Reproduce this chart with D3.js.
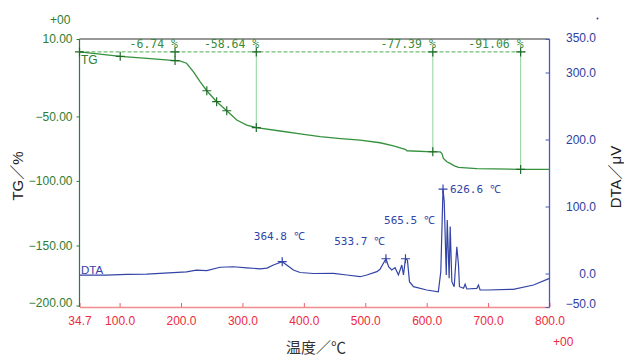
<!DOCTYPE html>
<html>
<head>
<meta charset="utf-8">
<script src="https://cdn.jsdelivr.net/npm/d3@7"></script>
<style>
  body { margin: 0; background: #fff; }
  svg { display: block; }
</style>
</head>
<body>
<div id="vis-holder"></div>
<script>
// TG curve (temperature in C, mass change in %)
const tgTemp  = [34.7, 101, 150, 190.3, 198, 209, 220, 231, 242, 258, 274.5, 290.8, 307, 322.6, 358.5, 394, 426.5, 460, 491.6, 524.2, 546, 565, 568, 610, 622, 624.7, 627.3, 632.8, 638.2, 645, 651.7, 681.7, 753, 800];
const tgValue = [0, -3.4, -5.2, -6.74, -6.9, -8.8, -15.3, -23.1, -30.1, -38.6, -45.6, -52.8, -56.7, -58.64, -61.1, -63.6, -65.7, -67.2, -68.3, -70.4, -72.9, -75.5, -76.6, -77.39, -77.5, -78.6, -82.5, -85.1, -86.4, -88.3, -89.5, -90.4, -91.06, -91.1];

// DTA curve (temperature in C, signal in uV)
const dtaTemp  = [34.7, 79, 111.6, 144, 165.8, 209, 225, 242, 263.6, 285.2, 307, 328.8, 340, 350.4, 364.8, 383, 394, 415.6, 448, 470, 491.6, 502.6, 518.9, 524, 533.7, 538, 543, 548.6, 554, 559.5, 562.2, 565.5, 568.7, 572, 578.5, 600, 619, 623, 626.6, 628.6, 631.9, 633.5, 636.6, 638.3, 641, 644.8, 649.1, 651.8, 653.4, 660, 662.6, 665.4, 681.7, 684.3, 687, 698, 741, 774, 800];
const dtaValue = [-2.5, -2.5, -1.2, -1.0, 0.3, 2.5, 5.0, 4.2, 9.3, 10.1, 8.5, 7.0, 8.0, 12.7, 17.6, 5.2, 1.5, 0.0, 0.3, -2.2, -4.8, -2.2, 2.7, 6.3, 22.0, 10.1, 5.2, 8.7, -2.2, 12.7, -2.2, 22.0, 20.0, -12.2, -19.7, -24.6, -27.2, 2.7, 126, 107, -2.2, 80, -7.2, 70, -12.2, -19.7, 40, 12.7, -19.7, -22.1, -16.1, -23.1, -22.1, -17.2, -24.6, -24.6, -23.6, -17.2, -7.2];

// TG steps
const stepTemp = [190.3, 322.6, 610.0, 753.0];
const stepLoss = [-6.74, -58.64, -77.39, -91.06];
const stepLabels = ["-6.74 %", "-58.64 %", "-77.39 %", "-91.06 %"];

// other TG marks
const tgMarkTemp  = [34.7, 101, 242, 258, 274.5];
const tgMarkValue = [0, -3.4, -30.1, -38.6, -45.6];

// DTA peaks
const peakTemp   = [364.8, 533.7, 565.5, 626.6];
const peakValue  = [17.6, 22.0, 22.0, 126];
const peakLabels = ["364.8 ℃", "533.7 ℃", "565.5 ℃", "626.6 ℃"];

// axis ticks
const xTicks   = [34.7, 100, 200, 300, 400, 500, 600, 700, 800];
const tgTicks  = [10, -50, -100, -150, -200];
const dtaTicks = [350, 300, 200, 100, 0, -50];

const width = 624;
const height = 356;
const plot = { left: 79.5, right: 549.5, top: 39, bottom: 307 };

const green = "#2e7d32";
const blue = "#3344a6";
const red = "#ee2a40";

const svg = d3.select("#vis-holder")
    .append("svg")
    .attr("width", width)
    .attr("height", height);

// scales
const x = d3.scaleLinear().domain([34.7, 800]).range([plot.left, plot.right]);
const yTG = d3.scaleLinear().domain([-200, 10]).range([310, plot.top]);
const yDTA = d3.scaleLinear().domain([-50, 350]).range([plot.bottom, plot.top]);

const labelFont = "'Liberation Sans', Arial, sans-serif";
const monoFont = "'DejaVu Sans Mono', 'Liberation Mono', monospace";

// top border
svg.append("line")
    .attr("x1", plot.left).attr("x2", plot.right)
    .attr("y1", plot.top).attr("y2", plot.top)
    .attr("stroke", "#333").attr("stroke-width", 1);

// bottom axis
const xAxis = svg.append("g")
    .attr("transform", `translate(0,${plot.bottom})`)
    .call(d3.axisBottom(x)
        .tickValues(xTicks)
        .tickFormat(d3.format(".1f"))
        .tickSizeInner(-4)
        .tickSizeOuter(0)
        .tickPadding(9));
xAxis.select(".domain").attr("stroke", "#f28b8b").attr("stroke-width", 1.5);
xAxis.selectAll(".tick line").attr("stroke", "#ef6070");
xAxis.selectAll(".tick text")
    .attr("fill", red)
    .attr("font-family", labelFont)
    .attr("font-size", "12px");

// left axis (TG)
const tgAxis = svg.append("g")
    .attr("transform", `translate(${plot.left},0)`)
    .call(d3.axisLeft(yTG)
        .tickValues(tgTicks)
        .tickFormat(d3.format(".2f"))
        .tickSize(3)
        .tickPadding(4));
tgAxis.select(".domain").remove();
tgAxis.selectAll(".tick line").attr("stroke", green);
tgAxis.selectAll(".tick text")
    .attr("fill", green)
    .attr("font-family", labelFont)
    .attr("font-size", "12px")
    .attr("dy", (d) => d === -200 ? "0.05em" : "0.32em");
tgAxis.selectAll(".tick")
    .filter((d) => d === -200)
    .attr("transform", `translate(0,${plot.bottom - 1})`);
svg.append("line")
    .attr("x1", plot.left).attr("x2", plot.left)
    .attr("y1", plot.top).attr("y2", plot.bottom)
    .attr("stroke", green).attr("stroke-width", 1.2);

// right axis (DTA)
const dtaAxis = svg.append("g")
    .attr("transform", `translate(${plot.right},0)`)
    .call(d3.axisLeft(yDTA)
        .tickValues(dtaTicks)
        .tickFormat(d3.format(".1f"))
        .tickSize(4));
dtaAxis.select(".domain").remove();
dtaAxis.selectAll(".tick line").attr("stroke", "#4a5bc0");
dtaAxis.selectAll(".tick text")
    .attr("x", 46.5)
    .attr("text-anchor", "end")
    .attr("fill", "#2d3da0")
    .attr("font-family", labelFont)
    .attr("font-size", "12px")
    .attr("dy", (d) => d === -50 ? "0em" : (d === 350 ? "0.2em" : "0.32em"));
svg.append("line")
    .attr("x1", plot.right).attr("x2", plot.right)
    .attr("y1", plot.top).attr("y2", plot.bottom)
    .attr("stroke", "#4a5bc0").attr("stroke-width", 1.3);

// reference dashed line at initial mass
svg.append("line")
    .attr("x1", plot.left).attr("x2", x(753) + 5)
    .attr("y1", yTG(0)).attr("y2", yTG(0))
    .attr("stroke", "#4caf50")
    .attr("stroke-width", 1)
    .attr("stroke-dasharray", "4,2");

// vertical step lines
svg.selectAll(".step-line")
    .data(stepTemp)
    .enter()
    .append("line")
    .attr("class", "step-line")
    .attr("x1", (d) => x(d)).attr("x2", (d) => x(d))
    .attr("y1", yTG(0))
    .attr("y2", (d, i) => yTG(stepLoss[i]))
    .attr("stroke", "#8fd39c")
    .attr("stroke-width", 1);

// TG curve
const tgLine = d3.line()
    .x((d, i) => x(tgTemp[i]))
    .y((d) => yTG(d));
svg.append("path")
    .datum(tgValue)
    .attr("d", tgLine)
    .attr("fill", "none")
    .attr("stroke", "#34913d")
    .attr("stroke-width", 1.3);

// DTA curve
const dtaLine = d3.line()
    .x((d, i) => x(dtaTemp[i]))
    .y((d) => yDTA(d));
svg.append("path")
    .datum(dtaValue)
    .attr("d", dtaLine)
    .attr("fill", "none")
    .attr("stroke", blue)
    .attr("stroke-width", 1.2);

// cross markers
const cross = "M-4.5,0H4.5M0,-4.5V4.5";

svg.selectAll(".tg-mark")
    .data(tgMarkTemp)
    .enter()
    .append("path")
    .attr("class", "tg-mark")
    .attr("d", cross)
    .attr("transform", (d, i) => `translate(${x(d)},${yTG(tgMarkValue[i])})`)
    .attr("stroke", "#1f6b28").attr("stroke-width", 1.2);

svg.selectAll(".step-top")
    .data(stepTemp)
    .enter()
    .append("path")
    .attr("class", "step-top")
    .attr("d", cross)
    .attr("transform", (d) => `translate(${x(d)},${yTG(0)})`)
    .attr("stroke", "#1f6b28").attr("stroke-width", 1.2);

svg.selectAll(".step-mark")
    .data(stepTemp)
    .enter()
    .append("path")
    .attr("class", "step-mark")
    .attr("d", cross)
    .attr("transform", (d, i) => `translate(${x(d)},${yTG(stepLoss[i])})`)
    .attr("stroke", "#1f6b28").attr("stroke-width", 1.2);

svg.selectAll(".step-label")
    .data(stepLabels)
    .enter()
    .append("text")
    .attr("class", "step-label")
    .attr("x", (d, i) => x(stepTemp[i]) + 3)
    .attr("y", 48)
    .attr("text-anchor", "end")
    .attr("fill", "#3a8a3c")
    .attr("font-family", monoFont)
    .attr("font-size", "11.5px")
    .text((d) => d);

svg.selectAll(".peak-mark")
    .data(peakTemp)
    .enter()
    .append("path")
    .attr("class", "peak-mark")
    .attr("d", cross)
    .attr("transform", (d, i) => `translate(${x(d)},${yDTA(peakValue[i])})`)
    .attr("stroke", blue).attr("stroke-width", 1.2);

// peak label placement relative to each peak
const peakOffset = [[-3, -22, "middle"], [-1, -14, "end"], [4, -35, "middle"], [7, 3.5, "start"]];
svg.selectAll(".peak-label")
    .data(peakLabels)
    .enter()
    .append("text")
    .attr("class", "peak-label")
    .attr("x", (d, i) => x(peakTemp[i]) + peakOffset[i][0])
    .attr("y", (d, i) => yDTA(peakValue[i]) + peakOffset[i][1])
    .attr("text-anchor", (d, i) => peakOffset[i][2])
    .attr("fill", blue)
    .attr("font-family", monoFont)
    .attr("font-size", "11px")
    .text((d) => d);

// curve names
svg.append("text")
    .attr("x", 81).attr("y", 63.5)
    .attr("fill", green)
    .attr("font-family", labelFont)
    .attr("font-size", "12px")
    .text("TG");
svg.append("text")
    .attr("x", 81).attr("y", 274)
    .attr("fill", blue)
    .attr("font-family", labelFont)
    .attr("font-size", "11.5px")
    .text("DTA");

// axis titles
svg.append("text")
    .attr("transform", "translate(23,176) rotate(-90)")
    .attr("text-anchor", "middle")
    .attr("fill", "#222")
    .attr("font-family", labelFont + ", 'Noto Sans CJK JP'")
    .attr("font-size", "15px")
    .text("TG／%");
svg.append("text")
    .attr("transform", "translate(621,177) rotate(-90)")
    .attr("text-anchor", "middle")
    .attr("fill", "#222")
    .attr("font-family", labelFont + ", 'Noto Sans CJK JP'")
    .attr("font-size", "15px")
    .text("DTA／μV");
svg.append("text")
    .attr("x", 316).attr("y", 353)
    .attr("text-anchor", "middle")
    .attr("fill", "#333")
    .attr("font-family", "'Noto Sans CJK JP', sans-serif")
    .attr("font-size", "15px")
    .text("温度／℃");

// exponent marks
svg.append("text")
    .attr("x", 50).attr("y", 23.5)
    .attr("fill", green)
    .attr("font-family", labelFont)
    .attr("font-size", "12px")
    .text("+00");
svg.append("text")
    .attr("x", 553).attr("y", 345.5)
    .attr("fill", red)
    .attr("font-family", labelFont)
    .attr("font-size", "12px")
    .text("+00");
svg.append("circle")
    .attr("cx", 597.5).attr("cy", 18.5).attr("r", 1)
    .attr("fill", blue);
</script>
</body>
</html>
